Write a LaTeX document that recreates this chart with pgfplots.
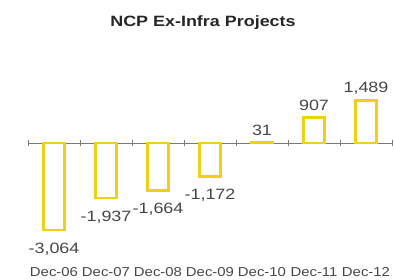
\documentclass[border=0pt]{standalone}
\usepackage{pgfplots}
\pgfplotsset{compat=1.18}
\usepackage{fontspec}
\setmainfont{Liberation Sans}
\definecolor{baryel}{RGB}{240,208,20}
\definecolor{axgray}{RGB}{120,120,120}
\definecolor{txtgray}{RGB}{70,70,70}
\begin{document}
\begin{tikzpicture}[x=1bp,y=1bp]
\path[use as bounding box] (0,0) rectangle (394,280);
\node[font=\bfseries\fontsize{15}{17}\selectfont, text=black!85, xscale=1.2] at (203,257) {NCP Ex-Infra\ Projects};
\begin{axis}[
  at={(28bp,22bp)}, anchor=south west,
  scale only axis, width=364bp, height=198bp,
  xmin=-0.5, xmax=6.5, ymin=-4049, ymax=2923,
  axis line style={draw=none},
  ytick=\empty,
  xtick={0,1,2,3,4,5,6},
  xticklabels={Dec-06,Dec-07,Dec-08,Dec-09,Dec-10,Dec-11,Dec-12},
  x tick label style={font=\fontsize{13}{15}\selectfont, text=txtgray, yshift=-6bp, xscale=1.15},
  major tick length=0pt,
  ybar, bar width=21bp, bar shift=0pt,
  clip=false,
  nodes near coords,
  point meta=explicit symbolic,
  every node near coord/.append style={font=\fontsize{15}{17}\selectfont, text=txtgray, xscale=1.2},
]
\draw[axgray, line width=1pt] (axis cs:-0.5,0) -- (axis cs:6.5,0);
\pgfplotsinvokeforeach{-0.5,0.5,1.5,2.5,3.5,4.5,5.5,6.5}{
  \draw[axgray, line width=0.8pt] (axis cs:#1,-90) -- (axis cs:#1,90);
}
\addplot[draw=baryel, fill=none, line width=2.6pt,
  every node near coord/.append style={anchor=north, yshift=-8bp}]
  table[meta=lab] {
x y lab
0 -3064 -3,064
1 -1937 -1,937
2 -1664 -1,664
3 -1172 -1,172
};
\addplot[draw=baryel, fill=none, line width=2.6pt,
  every node near coord/.append style={anchor=south, yshift=2bp}]
  table[meta=lab] {
x y lab
4 31 31
5 907 907
6 1489 1,489
};
\end{axis}
\end{tikzpicture}
\end{document}
